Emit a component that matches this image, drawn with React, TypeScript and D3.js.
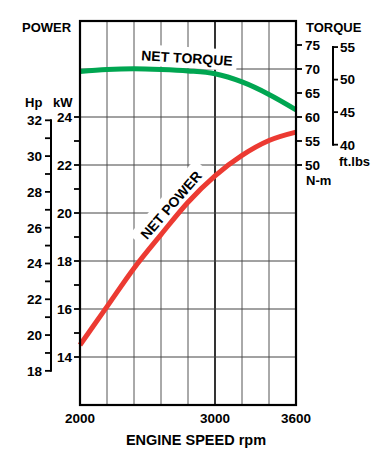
import React from "react";
import * as d3 from "d3";

const rpm = [2000, 2200, 2400, 2600, 2800, 3000, 3200, 3400, 3600];
const torqueNm = [69.5, 69.9, 70.05, 69.9, 69.6, 69.0, 67.3, 64.7, 61.5];
const powerKw = [14.5, 16.1, 17.7, 19.1, 20.45, 21.55, 22.4, 23.02, 23.37];

const xTickLabels = [2000, 3000, 3600];
const xGrid = [2200, 2400, 2600, 2800, 3000, 3200, 3400];
const kwGrid = [14, 16, 18, 20, 22, 24, 26];
const kwTicks = [14, 15, 16, 17, 18, 19, 20, 21, 22, 23, 24];
const kwLabels = [14, 16, 18, 20, 22, 24];
const hpTicks = [18, 19, 20, 21, 22, 23, 24, 25, 26, 27, 28, 29, 30, 31, 32];
const hpLabels = [18, 20, 22, 24, 26, 28, 30, 32];
const nmTicks = [50, 55, 60, 65, 70, 75];
const ftTicks = [40, 45, 50, 55];

const FONT = "'Liberation Sans', Arial, Helvetica, sans-serif";
const GREEN = "#00a651";
const RED = "#ec3a32";

export default function App() {
  const left = 80, right = 296, top = 21, bottom = 405;
  const x = d3.scaleLinear().domain([2000, 3600]).range([left, right]);
  const kw = d3.scaleLinear().domain([12, 28]).range([bottom, top]);
  const nm = d3.scaleLinear().domain([0, 80]).range([bottom, top]);
  const hp = d3.scaleLinear().domain([12 / 0.7457, 28 / 0.7457]).range([bottom, top]);
  const ft = d3.scaleLinear().domain([0, 80 / 1.35582]).range([bottom, top]);

  const torqueLine = d3
    .line<number>()
    .x((_, i) => x(rpm[i]))
    .y((d) => nm(d))
    .curve(d3.curveMonotoneX);
  const powerLine = d3
    .line<number>()
    .x((_, i) => x(rpm[i]))
    .y((d) => kw(d))
    .curve(d3.curveMonotoneX);

  const hpX = 51;
  const ftX = 333;
  const powerLabelT = "translate(171,205) rotate(-49)";
  const torqueLabelT = "translate(187,58) rotate(3.5)";

  return (
    <svg width={380} height={470} style={{ position: "absolute", left: 0, top: 0 }} fontFamily={FONT} fontWeight="bold">
      <rect x={0} y={0} width={380} height={470} fill="#fff" />
      {/* grid */}
      {xGrid.map((v) => (
        <line key={"vx" + v} x1={x(v)} x2={x(v)} y1={top} y2={bottom}
          stroke={v === 3000 ? "#000" : "#555"} strokeWidth={v === 3000 ? 1.6 : 1} />
      ))}
      {kwGrid.map((v) => (
        <line key={"hy" + v} x1={left} x2={right} y1={kw(v)} y2={kw(v)} stroke="#444" strokeWidth={1} />
      ))}
      {/* label backgrounds */}
      <g transform={torqueLabelT}>
        <rect x={-50} y={-11} width={100} height={21} fill="#fff" />
      </g>
      <g transform={powerLabelT}>
        <rect x={-50} y={-12} width={100} height={22} fill="#fff" />
      </g>
      {/* curves */}
      <path d={torqueLine(torqueNm) || ""} fill="none" stroke={GREEN} strokeWidth={5} />
      <path d={powerLine(powerKw) || ""} fill="none" stroke={RED} strokeWidth={5} />
      {/* frame */}
      <rect x={left} y={top} width={right - left} height={bottom - top} fill="none" stroke="#000" strokeWidth={2.2} />
      {/* curve labels */}
      <text transform={torqueLabelT} textAnchor="middle" dy="0.36em" fontSize={14}>NET TORQUE</text>
      <text transform={powerLabelT} textAnchor="middle" dy="0.36em" fontSize={14}>NET POWER</text>

      {/* kW axis */}
      {kwTicks.map((v) => (
        <line key={"kt" + v} x1={left - 6} x2={left} y1={kw(v)} y2={kw(v)} stroke="#000" strokeWidth={1.8} />
      ))}
      {kwLabels.map((v) => (
        <text key={"kl" + v} x={72} y={kw(v)} dy="0.36em" textAnchor="end" fontSize={13.5}>{v}</text>
      ))}
      {/* Hp axis */}
      <line x1={hpX} x2={hpX} y1={hp(32) - 1} y2={hp(18) + 1} stroke="#000" strokeWidth={2} />
      {hpTicks.map((v) => (
        <line key={"ht" + v} x1={hpX - 6} x2={hpX} y1={hp(v)} y2={hp(v)} stroke="#000" strokeWidth={1.8} />
      ))}
      {hpLabels.map((v) => (
        <text key={"hl" + v} x={42} y={hp(v)} dy="0.36em" textAnchor="end" fontSize={13.5}>{v}</text>
      ))}
      {/* N-m axis */}
      {nmTicks.map((v) => (
        <line key={"nt" + v} x1={right} x2={right + 6} y1={nm(v)} y2={nm(v)} stroke="#000" strokeWidth={1.8} />
      ))}
      {nmTicks.map((v) => (
        <text key={"nl" + v} x={305} y={nm(v)} dy="0.36em" textAnchor="start" fontSize={13.5}>{v}</text>
      ))}
      {/* ft.lbs axis */}
      <line x1={ftX} x2={ftX} y1={ft(55) - 1} y2={ft(40) + 1} stroke="#000" strokeWidth={2} />
      {ftTicks.map((v) => (
        <line key={"ft" + v} x1={ftX} x2={ftX + 5} y1={ft(v)} y2={ft(v)} stroke="#000" strokeWidth={1.8} />
      ))}
      {ftTicks.map((v) => (
        <text key={"fl" + v} x={340} y={ft(v)} dy="0.36em" textAnchor="start" fontSize={13.5}>{v}</text>
      ))}
      {/* x tick labels */}
      {xTickLabels.map((v) => (
        <text key={"xl" + v} x={x(v)} y={423} textAnchor="middle" fontSize={13.5}>{v}</text>
      ))}
      {/* titles */}
      <text x={22} y={32} fontSize={13}>POWER</text>
      <text x={306} y={32} fontSize={13}>TORQUE</text>
      <text x={25} y={107} fontSize={13}>Hp</text>
      <text x={53} y={107} fontSize={13}>kW</text>
      <text x={306} y={185} fontSize={13}>N-m</text>
      <text x={339} y={166} fontSize={13}>ft.lbs</text>
      <text x={196} y={445} textAnchor="middle" fontSize={14.5}>ENGINE SPEED rpm</text>
    </svg>
  );
}
